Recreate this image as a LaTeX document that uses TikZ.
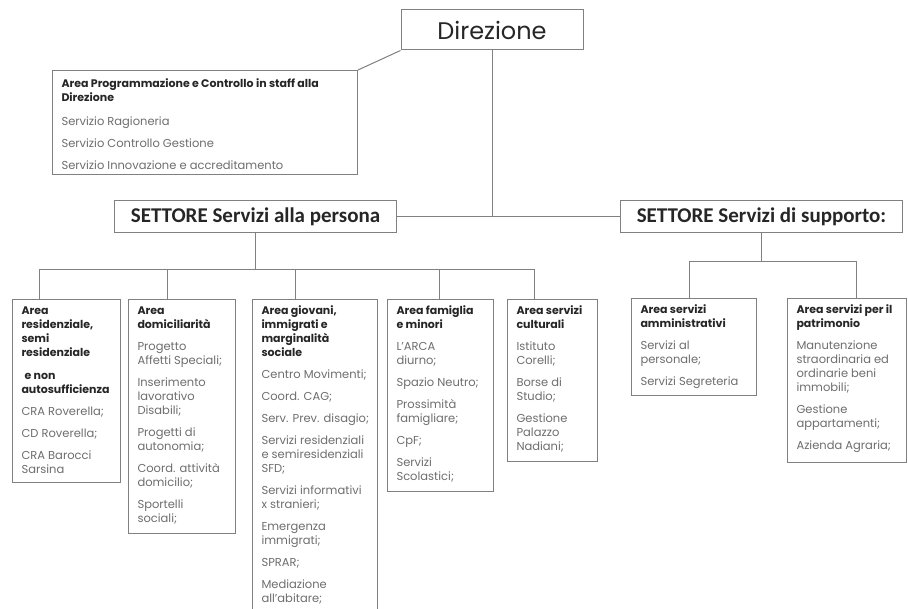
\documentclass[tikz,border=0pt]{standalone}
\usepackage{fontspec}
\setmainfont{Poppins}
\newfontfamily\settorefont{Carlito}
\usepackage{tikz}
\usetikzlibrary{positioning,calc}
\definecolor{boxline}{HTML}{808080}
\definecolor{ttlcol}{HTML}{262626}
\definecolor{itmcol}{HTML}{6E6E6E}
\newcommand{\ttl}[1]{{\color{ttlcol}\fontsize{11}{14}\selectfont\bfseries\strut #1\par}}
\newcommand{\itm}[1]{\vspace{8pt}{\color{itmcol}\fontsize{11.5}{14}\selectfont #1\par}}
\newcommand{\areatxt}[3]{\parbox[t][#1][t]{#2}{\fontsize{11}{14}\selectfont\raggedright\hyphenpenalty=10000 #3}}

\begin{document}
\begin{tikzpicture}[x=1pt,y=-1pt,
  area/.style={draw=boxline, line width=1pt, anchor=north west, inner xsep=9pt, inner ysep=5pt},
  settore/.style={draw=boxline, line width=1pt, minimum width=282pt, minimum height=32pt, font=\settorefont\fontsize{21}{23}\selectfont\bfseries, text=ttlcol},
  conn/.style={draw=boxline, line width=1pt}]
\fill[white] (0,0) rectangle (908,609);
\useasboundingbox (0,0) rectangle (908,609);
\clip (0,0) rectangle (908,609);

\node[draw=boxline, line width=1pt, minimum width=182pt, minimum height=40pt, font=\fontsize{24}{26}\selectfont, text=ttlcol] (direz) at (492,30) {Direzione};
\node[area, inner ysep=7pt] (staff) at (52,70) {\areatxt{90pt}{287pt}{
  \ttl{Area Programmazione e Controllo in staff alla\\Direzione}\vspace{2pt}
  \itm{Servizio Ragioneria}\itm{Servizio Controllo Gestione}\itm{Servizio Innovazione e accreditamento}}};

\node[settore] (persona) at (255.5,217) {SETTORE Servizi alla persona};
\node[settore] (supporto) at (761.5,217) {SETTORE Servizi di supporto:};

\node[area] (resid) at (12,299) {\areatxt{173pt}{90pt}{\ttl{Area\\residenziale,\\semi\\residenziale}\vspace{9pt}
  \ttl{\hspace*{3pt}e non\\autosufficienza}\itm{CRA Roverella;}\itm{CD Roverella;}\itm{CRA Barocci\\Sarsina}}};
\node[area] (domic) at (128,299) {\areatxt{224pt}{89pt}{\ttl{Area\\domiciliarità}\itm{Progetto\\Affetti Speciali;}
  \itm{Inserimento\\lavorativo\\Disabili;}\itm{Progetti di\\autonomia;}\itm{Coord. attività\\domicilio;}\itm{Sportelli\\sociali;}}};
\node[area] (giov) at (252,299) {\areatxt{315pt}{107pt}{\ttl{Area giovani,\\immigrati e\\marginalità\\sociale}\itm{\mbox{Centro Movimenti;}}
  \itm{Coord. CAG;}\itm{\mbox{Serv. Prev. disagio;}}\itm{\mbox{Servizi residenziali}\\\mbox{e semiresidenziali}\\SFD;}\itm{\mbox{Servizi informativi}\\x stranieri;}
  \itm{Emergenza\\immigrati;}\itm{SPRAR;}\itm{Mediazione\\all'abitare;}}};
\node[area] (fam) at (387,299) {\areatxt{182pt}{88pt}{\ttl{Area famiglia\\e minori}\itm{L'ARCA\\diurno;}\itm{Spazio Neutro;}
  \itm{Prossimità\\famigliare;}\itm{CpF;}\itm{Servizi\\Scolastici;}}};
\node[area] (cult) at (507,299) {\areatxt{152pt}{72pt}{\ttl{Area servizi\\culturali}\itm{Istituto\\Corelli;}\itm{Borse di\\Studio;}
  \itm{Gestione\\Palazzo\\Nadiani;}}};

\node[area] (amm) at (631,298) {\areatxt{87pt}{107pt}{\ttl{Area servizi\\amministrativi}\itm{Servizi al\\personale;}\itm{Servizi Segreteria}}};
\node[area] (patr) at (787,298) {\areatxt{154pt}{101pt}{\ttl{Area servizi per il\\patrimonio}\itm{Manutenzione\\straordinaria ed\\ordinarie beni\\immobili;}
  \itm{Gestione\\appartamenti;}\itm{Azienda Agraria;}}};

\draw[conn] (staff.north east) -- (direz.south west);
\draw[conn] (persona) -- (supporto);
\draw[conn] (direz.south) -- (direz.south |- persona.east);
\path (persona.south) ++(0,36) coordinate (pj);
\path (supporto.south) ++(0,28) coordinate (sj);
\draw[conn] (persona.south) -- (pj);
\draw[conn] (supporto.south) -- (sj);
\foreach \b/\dx in {resid/27,domic/39,giov/43,fam/52,cult/27}
  \draw[conn] (pj) -| ([xshift=\dx pt]\b.north west);
\foreach \b/\dx in {amm/58,patr/69}
  \draw[conn] (sj) -| ([xshift=\dx pt]\b.north west);
\end{tikzpicture}
\end{document}
